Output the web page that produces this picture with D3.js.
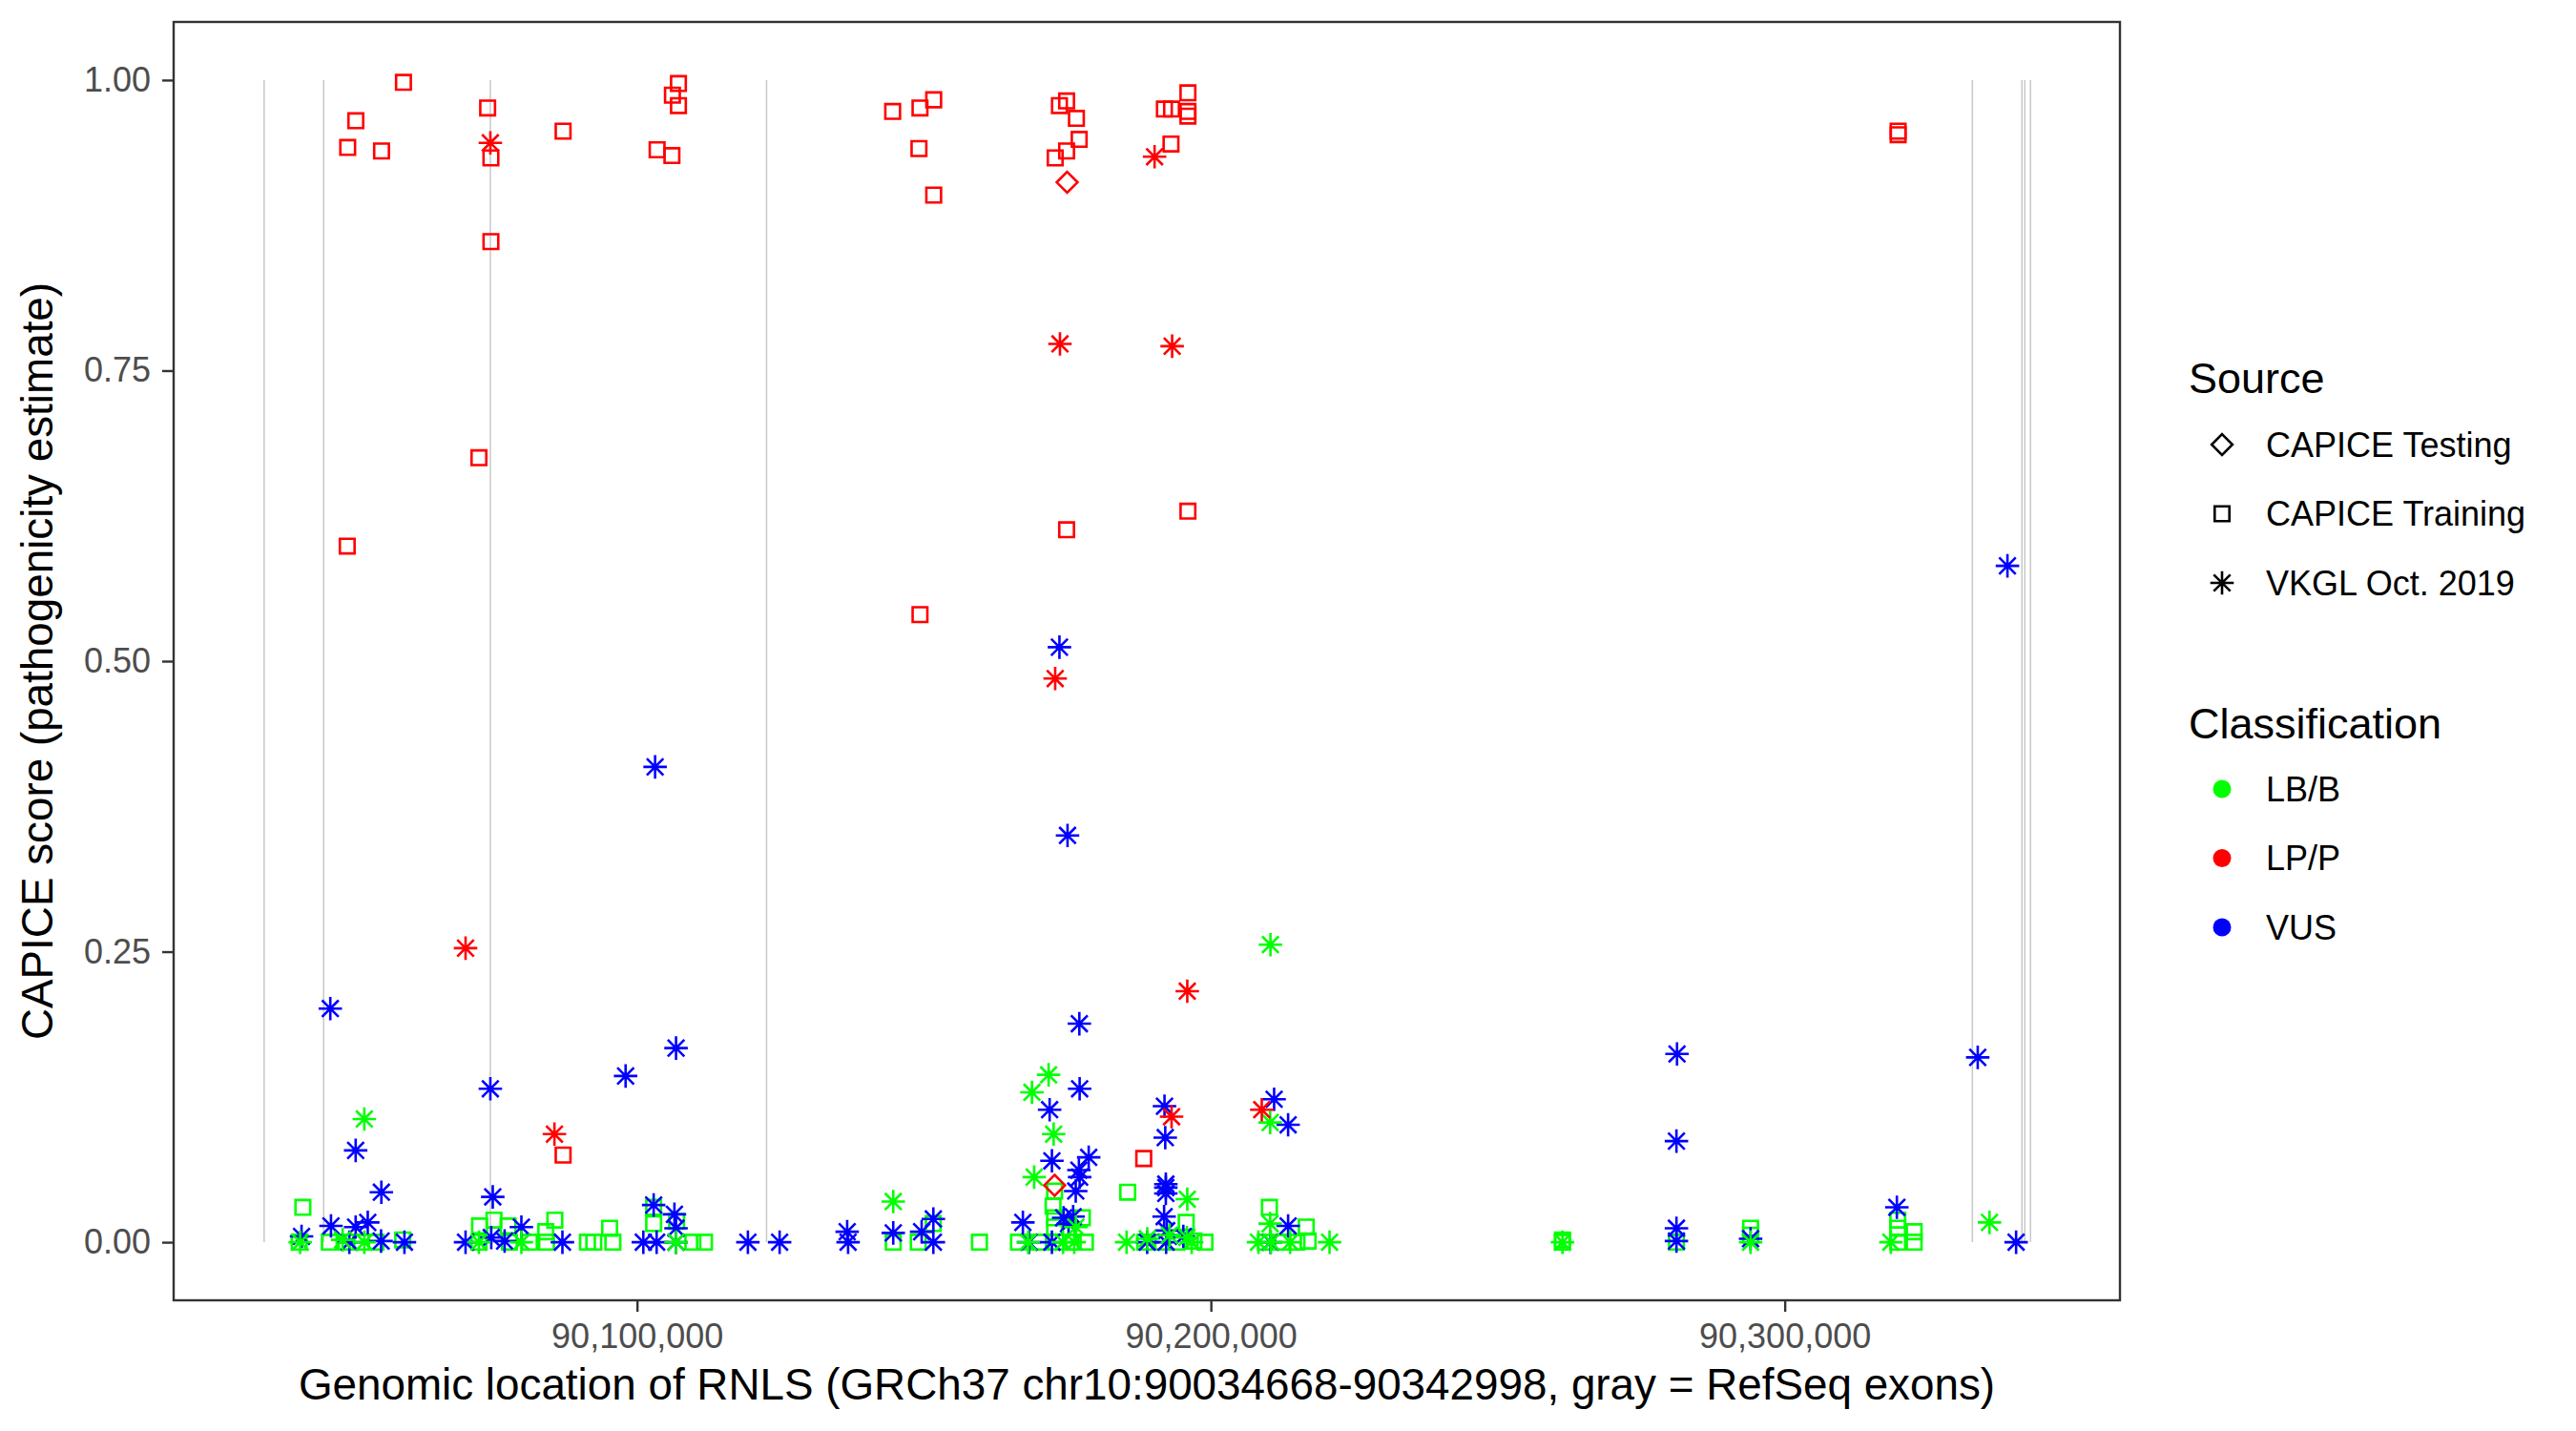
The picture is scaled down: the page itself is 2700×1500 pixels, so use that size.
<!DOCTYPE html>
<html lang="en">
<head>
    <meta charset="UTF-8">
    <title>CAPICE scores along RNLS</title>
    <script src="https://d3js.org/d3.v7.min.js"></script>
    <style>
        body {
            margin: 0;
            background: #fff;
        }
        text {
            font-family: "Liberation Sans", Arial, Helvetica, sans-serif;
        }
        .tick text {
            fill: #4d4d4d;
            font-size: 36px;
        }
        .tick line {
            stroke: #333;
            stroke-width: 2.4px;
        }
        .exon {
            stroke: #c8c8c8;
            stroke-width: 1.5px;
        }
    </style>
</head>
<body>
    <script>
        // gene window (GRCh37 chr10)
        const geneStart = 90034668;
        const geneEnd = 90342998;

        // RefSeq exon positions (gray lines)
        const exons = [90035020, 90045390, 90074440, 90122570, 90332700, 90341330, 90341830, 90342830];

        const xTicks = [90100000, 90200000, 90300000];
        const yTicks = [0, 0.25, 0.5, 0.75, 1];

        const sources = ["CAPICE Testing", "CAPICE Training", "VKGL Oct. 2019"];
        const classes = ["LB/B", "LP/P", "VUS"];
        const classColor = {"LB/B": "#00ff00", "LP/P": "#ff0000", "VUS": "#0000ff"};

        // [position, CAPICE score]
        const trainingLBB = [
            [90041770,0.030],[90041130,0.000],[90046390,0.000],[90049300,0.000],[90052000,0.000],[90054500,0.000],
            [90059170,0.002],[90072560,0.014],[90075070,0.019],[90072450,0.000],[90077530,0.014],[90077760,0.000],
            [90081260,0.000],[90084230,0.000],[90085680,0.019],[90084100,0.009],[90091360,0.000],[90092470,0.000],
            [90095230,0.012],[90095790,0.000],[90102900,0.030],[90102900,0.016],[90106900,0.018],[90109730,0.000],
            [90111750,0.000],[90144650,0.000],[90149010,0.000],[90151620,0.016],[90159670,0.000],[90166470,0.000],
            [90170000,0.000],[90173000,0.000],[90176000,0.000],[90178130,0.000],[90172770,0.044],[90172500,0.031],
            [90172770,0.021],[90172770,0.013],[90177600,0.021],[90185510,0.043],[90195700,0.017],[90188500,0.000],
            [90191600,0.000],[90194000,0.000],[90197030,0.001],[90198970,0.000],[90210200,0.030],[90216620,0.013],
            [90216950,0.001],[90209500,0.000],[90212500,0.000],[90215000,0.000],[90261270,0.000],[90261270,0.002],
            [90281130,0.000],[90294050,0.012],[90294050,0.006],[90319700,0.019],[90319700,0.012],[90319700,0.000],
            [90322550,0.009],[90322550,0.000]
        ];
        const trainingLPP = [
            [90059300,0.998],[90051000,0.965],[90049580,0.942],[90055480,0.939],[90049500,0.599],[90073970,0.976],
            [90074540,0.933],[90074540,0.861],[90072450,0.675],[90087120,0.956],[90107220,0.997],[90106170,0.987],
            [90107220,0.978],[90103500,0.940],[90106080,0.935],[90144550,0.973],[90149310,0.976],[90151700,0.983],
            [90149130,0.941],[90151700,0.901],[90149310,0.540],[90173610,0.978],[90174860,0.982],[90176570,0.967],
            [90177050,0.949],[90174860,0.939],[90172870,0.933],[90174860,0.613],[90191900,0.975],[90193150,0.975],
            [90196000,0.989],[90196000,0.973],[90196000,0.969],[90193050,0.945],[90196000,0.629],[90319760,0.956],
            [90319760,0.953],[90087120,0.075],[90188300,0.072]
        ];
        const testingLPP = [[90174950,0.912],[90172770,0.049]];
        const vkglVUS = [
            [90046550,0.201],[90074440,0.132],[90050970,0.079],[90098010,0.143],[90055450,0.043],[90074860,0.039],
            [90102900,0.032],[90106800,0.167],[90103150,0.409],[90175020,0.350],[90173610,0.512],[90106520,0.024],
            [90041540,0.005],[90046670,0.014],[90049870,0.000],[90050970,0.013],[90053080,0.017],[90055400,0.001],
            [90059470,0.000],[90070120,0.000],[90074600,0.004],[90076930,0.001],[90079850,0.013],[90087000,0.000],
            [90101100,0.000],[90103420,0.000],[90106800,0.012],[90106800,0.000],[90119320,0.000],[90124850,0.000],
            [90136620,0.009],[90136780,0.000],[90144650,0.008],[90149600,0.009],[90151640,0.020],[90151640,0.000],
            [90167240,0.017],[90171900,0.114],[90172300,0.070],[90177080,0.188],[90177130,0.132],[90178710,0.073],
            [90177000,0.062],[90177130,0.056],[90176450,0.044],[90174340,0.021],[90176000,0.022],[90175200,0.016],
            [90168300,0.000],[90172300,0.000],[90191920,0.117],[90192050,0.090],[90192150,0.050],[90192150,0.047],
            [90192150,0.042],[90191850,0.022],[90192300,0.010],[90195200,0.005],[90188900,0.000],[90192200,0.000],
            [90211020,0.123],[90213460,0.101],[90213460,0.014],[90210400,0.000],[90281230,0.162],[90281130,0.087],
            [90281130,0.012],[90281130,0.001],[90294050,0.003],[90319540,0.030],[90333630,0.159],[90338810,0.582],
            [90340320,0.000]
        ];
        const vkglLBB = [
            [90052480,0.106],[90144650,0.035],[90168820,0.129],[90171720,0.144],[90172600,0.093],[90169210,0.056],
            [90195890,0.037],[90210380,0.256],[90210330,0.103],[90335680,0.017],[90052480,0.000],[90048700,0.002],
            [90072450,0.000],[90106800,0.000],[90168160,0.000],[90176470,0.013],[90174240,0.000],[90176190,0.000],
            [90185310,0.000],[90188920,0.003],[90192780,0.006],[90195820,0.004],[90196650,0.000],[90208290,0.000],
            [90210460,0.000],[90213810,0.000],[90210330,0.016],[90220680,0.000],[90261270,0.000],[90294050,0.000],
            [90318500,0.000],[90041300,0.000],[90079850,0.000]
        ];
        const vkglLPP = [
            [90074440,0.946],[90173700,0.773],[90193250,0.771],[90190190,0.934],[90172870,0.485],[90070120,0.253],
            [90085610,0.093],[90195890,0.216],[90193150,0.108],[90208870,0.114]
        ];

        // draw order: training, testing, then VKGL on top
        const groups = [
            {source: "CAPICE Training", cls: "LB/B", data: trainingLBB},
            {source: "CAPICE Training", cls: "LP/P", data: trainingLPP},
            {source: "CAPICE Testing", cls: "LP/P", data: testingLPP},
            {source: "VKGL Oct. 2019", cls: "VUS", data: vkglVUS},
            {source: "VKGL Oct. 2019", cls: "LB/B", data: vkglLBB},
            {source: "VKGL Oct. 2019", cls: "LP/P", data: vkglLPP}
        ];
        const points = groups.flatMap(g => g.data.map(d => ({pos: d[0], score: d[1], source: g.source, cls: g.cls})));

        const width = 2700, height = 1500;
        const panel = {left: 182, right: 2222, top: 23, bottom: 1363};

        const span = geneEnd - geneStart;
        const x = d3.scaleLinear()
            .domain([geneStart - 0.05 * span, geneEnd + 0.05 * span])
            .range([panel.left, panel.right]);
        const y = d3.scaleLinear()
            .domain([-0.05, 1.05])
            .range([panel.bottom, panel.top]);

        // R-style point shapes (pch 5, 0, 8)
        const R = 8.7;
        function shapePath(source) {
            if (source === "CAPICE Testing") {
                const a = 1.2533 * R;
                return `M0,${-a}L${a},0L0,${a}L${-a},0Z`;
            }
            if (source === "CAPICE Training") {
                const h = 0.8862 * R;
                return `M${-h},${-h}H${h}V${h}H${-h}Z`;
            }
            const a = Math.SQRT2 * R;
            return `M${-a},0H${a}M0,${-a}V${a}M${-R},${-R}L${R},${R}M${-R},${R}L${R},${-R}`;
        }

        const svg = d3.select("body").append("svg")
            .attr("width", width)
            .attr("height", height);

        // exon lines
        svg.append("g")
            .selectAll("line")
            .data(exons)
            .enter().append("line")
            .attr("class", "exon")
            .attr("x1", d => x(d))
            .attr("x2", d => x(d))
            .attr("y1", y(0))
            .attr("y2", y(1));

        // points
        svg.append("g")
            .selectAll("path")
            .data(points)
            .enter().append("path")
            .attr("transform", d => `translate(${x(d.pos)},${y(d.score)})`)
            .attr("d", d => shapePath(d.source))
            .attr("fill", "none")
            .attr("stroke", d => classColor[d.cls])
            .attr("stroke-width", 2.6);

        // panel border
        svg.append("rect")
            .attr("x", panel.left)
            .attr("y", panel.top)
            .attr("width", panel.right - panel.left)
            .attr("height", panel.bottom - panel.top)
            .attr("fill", "none")
            .attr("stroke", "#333")
            .attr("stroke-width", 2.4);

        // axes
        const xAxis = svg.append("g")
            .attr("transform", `translate(0,${panel.bottom})`)
            .call(d3.axisBottom(x).tickValues(xTicks).tickFormat(d3.format(",")).tickSize(12).tickPadding(12));
        const yAxis = svg.append("g")
            .attr("transform", `translate(${panel.left},0)`)
            .call(d3.axisLeft(y).tickValues(yTicks).tickFormat(d3.format(".2f")).tickSize(12).tickPadding(12));
        xAxis.select(".domain").remove();
        yAxis.select(".domain").remove();
        svg.selectAll(".tick text").attr("font-family", null).attr("font-size", null);

        // axis titles
        svg.append("text")
            .attr("x", (panel.left + panel.right) / 2)
            .attr("y", 1467)
            .attr("text-anchor", "middle")
            .attr("font-size", 45.8)
            .text("Genomic location of RNLS (GRCh37 chr10:90034668-90342998, gray = RefSeq exons)");

        svg.append("text")
            .attr("transform", `translate(55,${(panel.top + panel.bottom) / 2}) rotate(-90)`)
            .attr("text-anchor", "middle")
            .attr("font-size", 45.8)
            .text("CAPICE score (pathogenicity estimate)");

        // legends
        const legX = 2294, keyX = 2329, labelX = 2375, step = 72.5;

        const srcLeg = svg.append("g");
        srcLeg.append("text")
            .attr("x", legX).attr("y", 412)
            .attr("font-size", 45)
            .text("Source");
        const srcItems = srcLeg.selectAll("g")
            .data(sources)
            .enter().append("g")
            .attr("transform", (d, i) => `translate(0,${466 + i * step})`);
        srcItems.append("path")
            .attr("transform", `translate(${keyX},0)`)
            .attr("d", d => shapePath(d))
            .attr("fill", "none")
            .attr("stroke", "#000")
            .attr("stroke-width", 2.6);
        srcItems.append("text")
            .attr("x", labelX)
            .attr("dy", "0.35em")
            .attr("font-size", 36)
            .text(d => d);

        const clsLeg = svg.append("g");
        clsLeg.append("text")
            .attr("x", legX).attr("y", 774)
            .attr("font-size", 45)
            .text("Classification");
        const clsItems = clsLeg.selectAll("g")
            .data(classes)
            .enter().append("g")
            .attr("transform", (d, i) => `translate(0,${827 + i * step})`);
        clsItems.append("circle")
            .attr("cx", keyX)
            .attr("r", 9.5)
            .attr("fill", d => classColor[d]);
        clsItems.append("text")
            .attr("x", labelX)
            .attr("dy", "0.35em")
            .attr("font-size", 36)
            .text(d => d);
    </script>
</body>
</html>
